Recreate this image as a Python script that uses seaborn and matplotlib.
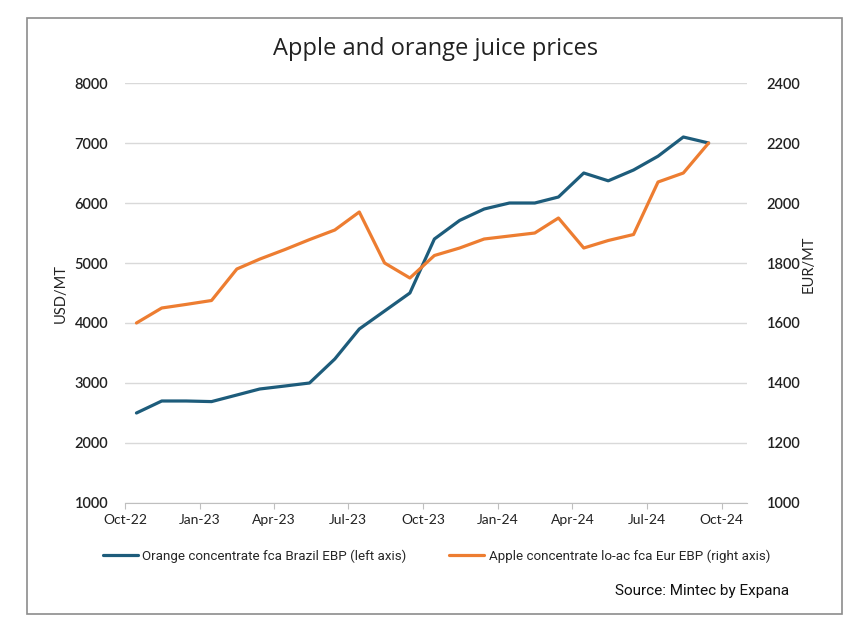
import pandas as pd
import matplotlib.pyplot as plt
import matplotlib.dates as mdates
from matplotlib.patches import Rectangle
import seaborn as sns

# monthly mid-points, Oct-22 .. Sep-24
months = ["2022-10-15", "2022-11-15", "2022-12-15", "2023-01-15", "2023-02-15", "2023-03-15",
          "2023-04-15", "2023-05-15", "2023-06-15", "2023-07-15", "2023-08-15", "2023-09-15",
          "2023-10-15", "2023-11-15", "2023-12-15", "2024-01-15", "2024-02-15", "2024-03-15",
          "2024-04-15", "2024-05-15", "2024-06-15", "2024-07-15", "2024-08-15", "2024-09-15"]

# USD/MT, left axis
orange_usd = [2500, 2700, 2700, 2690, 2800, 2900, 2950, 3000, 3400, 3900, 4200, 4500,
              5400, 5710, 5900, 6000, 6000, 6100, 6500, 6370, 6550, 6780, 7100, 7000]

# EUR/MT, right axis
apple_eur = [1600, 1650, 1662, 1675, 1780, 1813, 1845, 1878, 1910, 1970, 1800, 1750,
             1825, 1850, 1880, 1890, 1900, 1950, 1850, 1875, 1895, 2070, 2100, 2200]

orange_label = "Orange concentrate fca Brazil EBP (left axis)"
apple_label = "Apple concentrate lo-ac fca Eur EBP (right axis)"

df = pd.DataFrame({"date": pd.to_datetime(months), "orange": orange_usd, "apple": apple_eur})

sns.set_style("white")
plt.rcParams["font.family"] = ["Lato", "DejaVu Sans"]

blue = "#1d5c7b"
orange = "#ed7d31"

fig = plt.figure(figsize=(8.67, 6.41), dpi=100)
ax = fig.add_axes([0.1442, 0.2153, 0.7174, 0.6552])
ax2 = ax.twinx()

sns.lineplot(data=df, x="date", y="orange", ax=ax, color=blue, linewidth=2.3, label=orange_label, legend=False)
sns.lineplot(data=df, x="date", y="apple", ax=ax2, color=orange, linewidth=2.3, label=apple_label, legend=False)

ax.set_xlim(pd.Timestamp("2022-10-01"), pd.Timestamp("2024-11-01"))
ax.set_ylim(1000, 8000)
ax2.set_ylim(1000, 2400)
ax.set_yticks(range(1000, 8001, 1000))
ax2.set_yticks(range(1000, 2401, 200))

ax.xaxis.set_major_locator(mdates.MonthLocator(bymonth=[1, 4, 7, 10]))
ax.xaxis.set_major_formatter(mdates.DateFormatter("%b-%y"))

ax.grid(axis="y", color="#d9d9d9", linewidth=1)
ax.grid(axis="x", visible=False)
ax2.grid(False)
ax.set_axisbelow(True)

for a in (ax, ax2):
    for s in ("left", "right", "top", "bottom"):
        a.spines[s].set_visible(False)
ax.spines["bottom"].set_visible(True)
ax.spines["bottom"].set_color("#bfbfbf")

ax.tick_params(axis="x", length=4, color="#bfbfbf", labelsize=10, labelcolor="#222222", pad=4, direction="out", bottom=True)
ax.tick_params(axis="y", length=0, labelsize=10.5, labelcolor="#222222", pad=12)
ax2.tick_params(axis="y", length=0, labelsize=10.5, labelcolor="#222222", pad=14)
for lab in ax.get_yticklabels() + ax2.get_yticklabels():
    lab.set_fontweight("semibold")

ax.set_xlabel("")
ax.set_ylabel("")
ax2.set_ylabel("")

fig.text(61 / 867, 1 - 293 / 641, "USD/MT", rotation=90, ha="center", va="center", fontsize=10.5, color="#222222")
fig.text(809 / 867, 1 - 264 / 641, "EUR/MT", rotation=90, ha="center", va="center", fontsize=10.5, color="#222222")

fig.text(0.502, 1 - 49 / 641, "Apple and orange juice prices", ha="center", va="center",
         fontsize=17, color="#222222", family=["Open Sans", "DejaVu Sans"])

h1, l1 = ax.get_legend_handles_labels()
h2, l2 = ax2.get_legend_handles_labels()
fig.legend(h1 + h2, l1 + l2, loc="center", bbox_to_anchor=(0.5035, 1 - 556 / 641), ncol=2,
           frameon=False, handlelength=2.6, handletextpad=0.35, columnspacing=3.2,
           prop={"family": ["Roboto", "DejaVu Sans"], "size": 9.6})

fig.text(789 / 867, 1 - 591 / 641, "Source: Mintec by Expana", ha="right", va="center",
         fontsize=11, color="#111111", family=["Roboto", "DejaVu Sans"])

fig.patches.append(Rectangle((27 / 867, 1 - 614 / 641), (842 - 27) / 867, (614 - 18) / 641,
                             transform=fig.transFigure, fill=False, edgecolor="#8c8c8c", linewidth=1.2))

fig.savefig("out.png", dpi=100)
